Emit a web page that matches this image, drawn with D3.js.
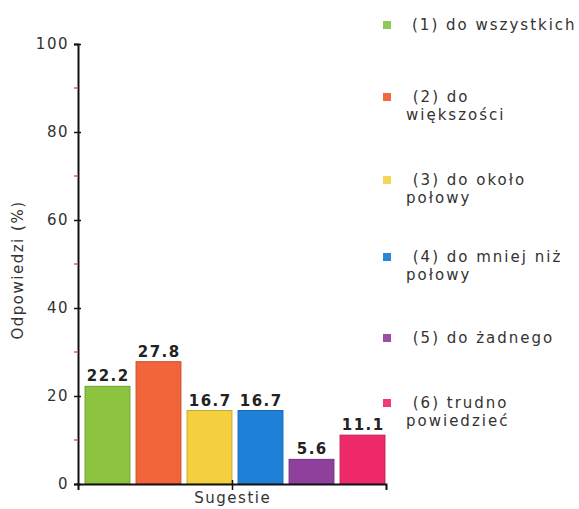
<!DOCTYPE html>
<html><head><meta charset="utf-8">
<script src="https://cdn.jsdelivr.net/npm/d3@7"></script>
<style>body{margin:0;background:#fff}</style>
</head><body>
<svg id="c" width="579" height="509"></svg>
<script>
const categories = ["(1) do wszystkich","(2) do większości","(3) do około połowy","(4) do mniej niż połowy","(5) do żadnego","(6) trudno powiedzieć"];
const legendLines = [["(1) do wszystkich"],[" (2) do","większości"],[" (3) do około","połowy"],[" (4) do mniej niż","połowy"],[" (5) do żadnego"],[" (6) trudno","powiedzieć"]];
const values = [22.2, 27.8, 16.7, 16.7, 5.6, 11.1];
const colors = ["#8cc43f","#f2643a","#f4d03f","#1f80d8","#8f3f9c","#ee2a68"];
const legendColors = ["#8fc85a","#f2673f","#f5d65a","#2a86d8","#9a4fa5","#ef3a72"];
const yTicks = [0,20,40,60,80,100];
const yMinor = [10,30,50,70,90];
const xLabel = "Sugestie";
const yLabel = "Odpowiedzi (%)";

const svg = d3.select("#c");
const font = "DejaVu Sans, Verdana, sans-serif";
const ls = 1.5;
const y = d3.scaleLinear().domain([0,100]).range([484,44]);
const x = d3.scaleBand().domain(categories).range([83,387]).paddingInner(0.12).paddingOuter(0.04);

// bars
svg.append("g").selectAll("rect").data(values).join("rect")
  .attr("x",(d,i)=>x(categories[i]))
  .attr("y",d=>y(d))
  .attr("width",x.bandwidth())
  .attr("height",d=>y(0)-y(d))
  .attr("fill",(d,i)=>colors[i])
  .attr("stroke",(d,i)=>d3.color(colors[i]).darker(0.6))
  .attr("stroke-width",1);

// value labels
svg.append("g").selectAll("text").data(values).join("text")
  .attr("x",(d,i)=>x(categories[i])+x.bandwidth()/2+ls/2)
  .attr("y",d=>y(d)-5)
  .attr("text-anchor","middle")
  .attr("font-family",font).attr("font-weight","bold").attr("font-size",15)
  .attr("letter-spacing",ls)
  .attr("fill","#222")
  .text(d=>d.toFixed(1));

// y axis
const yAxis = d3.axisLeft(y).tickValues(yTicks).tickSize(4).tickPadding(5);
const gy = svg.append("g").attr("transform","translate(78,0)").call(yAxis);
gy.select(".domain").attr("stroke","#111").attr("stroke-width",2);
gy.selectAll(".tick line").attr("x1",3).attr("x2",-4).attr("stroke","#111").attr("stroke-width",1.5);
gy.selectAll(".tick text").attr("font-family",font).attr("font-size",15).attr("letter-spacing",ls).attr("fill","#333");
svg.append("g").selectAll("line").data(yMinor).join("line")
  .attr("x1",74).attr("x2",77).attr("y1",d=>y(d)).attr("y2",d=>y(d))
  .attr("stroke","#f22").attr("stroke-width",1.2);

// x axis
const xs = d3.scaleLinear().domain([0,1]).range([78,386]);
const xAxis = d3.axisBottom(xs).tickValues([0.5]).tickFormat("").tickSizeOuter(0).tickSize(6);
const gx = svg.append("g").attr("transform","translate(0,484)").call(xAxis);
gx.select(".domain").attr("stroke","#111").attr("stroke-width",2);
gx.selectAll(".tick line").attr("y1",-4).attr("stroke","#111").attr("stroke-width",1.5);
svg.append("text").attr("x",xs(0.5)+ls/2).attr("y",503).attr("text-anchor","middle")
  .attr("font-family",font).attr("font-size",15).attr("letter-spacing",ls).attr("fill","#333").text(xLabel);
svg.append("text").attr("transform","translate(23,270) rotate(-90)").attr("text-anchor","middle")
  .attr("font-family",font).attr("font-size",15).attr("letter-spacing",ls).attr("fill","#333").text(yLabel);

// legend
const ly = [25,97,180,257,338,403];
const lg = svg.append("g").selectAll("g").data(categories).join("g")
  .attr("transform",(d,i)=>`translate(383,${ly[i]})`);
lg.append("rect").attr("x",0).attr("y",-4).attr("width",8).attr("height",8)
  .attr("fill",(d,i)=>legendColors[i]);
lg.each(function(d,i){
  const t = d3.select(this).append("text").attr("font-family",font).attr("font-size",15)
    .attr("letter-spacing",2).attr("fill","#333")
    .attr("xml:space","preserve");
  legendLines[i].forEach((ln,j)=>{
    t.append("tspan").attr("x", i===0?29:23).attr("y", j===0?5:23).text(ln);
  });
});
</script>
</body></html>
